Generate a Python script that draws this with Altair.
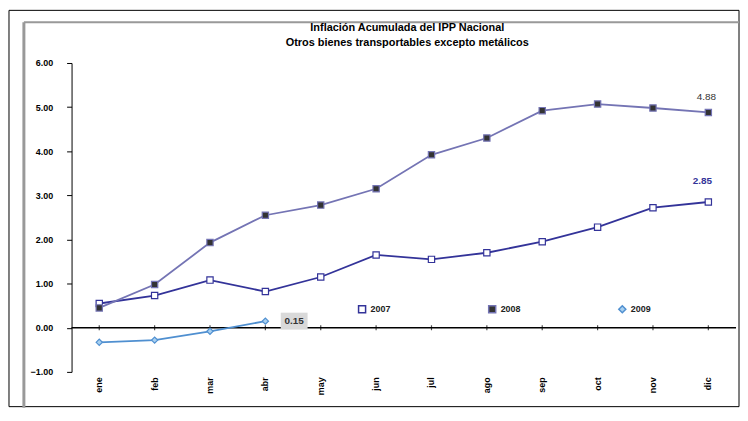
import altair as alt
import pandas as pd

months = ["ene", "feb", "mar", "abr", "may", "jun", "jul", "ago", "sep", "oct", "nov", "dic"]
series = ["2007", "2008", "2009"]
s2007 = [0.55, 0.73, 1.08, 0.82, 1.15, 1.65, 1.55, 1.70, 1.95, 2.28, 2.72, 2.85]
s2008 = [0.45, 0.98, 1.93, 2.55, 2.78, 3.15, 3.92, 4.30, 4.92, 5.07, 4.98, 4.88]
s2009 = [-0.33, -0.28, -0.08, 0.15]
y_ticks = [-1, 0, 1, 2, 3, 4, 5, 6]
title_lines = ["Inflación Acumulada del IPP Nacional", "Otros bienes transportables excepto metálicos"]
line_colors = ["#333399", "#7474B4", "#4F8FD0"]
fill_colors = ["#FFFFFF", "#333333", "#A8D0F0"]
shapes = ["square", "square", "diamond"]

rows = []
for name, vals in zip(series, [s2007, s2008, s2009]):
    for m, v in zip(months, vals):
        rows.append({"mes": m, "serie": name, "valor": v})
df = pd.DataFrame(rows)

FONT = "Liberation Sans"

x_enc = alt.X("mes:N", sort=months, scale=alt.Scale(domain=months, paddingInner=0, paddingOuter=0),
              axis=alt.Axis(title=None, domain=False, ticks=False, labelAngle=270,
                            labelFontWeight="bold", labelFontSize=9, labelPadding=5,
                            labelColor="black", labelFont=FONT, grid=False))
y_enc = alt.Y("valor:Q", scale=alt.Scale(domain=[-1, 6], nice=False, zero=False),
              axis=alt.Axis(title=None, values=y_ticks, format=".2f", grid=False,
                            domain=True, domainColor="black", tickColor="black",
                            tickSize=5, labelFontWeight="bold", labelFontSize=9,
                            labelColor="black", labelFont=FONT, labelPadding=14))

stroke_scale = alt.Scale(domain=series, range=line_colors)
fill_scale = alt.Scale(domain=series, range=fill_colors)
shape_scale = alt.Scale(domain=series, range=shapes)

leg = alt.Legend(title=None, orient="none", legendX=288, legendY=243, direction="horizontal",
                 columnPadding=94, labelFontWeight="bold", labelFontSize=9, labelFont=FONT,
                 symbolSize=50, symbolStrokeWidth=1.5, labelColor="#222222")

base = alt.Chart(df)

lines = base.mark_line(strokeWidth=1.8).encode(
    x=x_enc, y=y_enc,
    stroke=alt.Stroke("serie:N", scale=stroke_scale, legend=leg),
    detail="serie:N",
)

points = base.mark_point(size=40, strokeWidth=1.2, opacity=1, filled=False).encode(
    x=x_enc, y=y_enc,
    stroke=alt.Stroke("serie:N", scale=stroke_scale, legend=leg),
    fill=alt.Fill("serie:N", scale=fill_scale, legend=leg),
    shape=alt.Shape("serie:N", scale=shape_scale, legend=leg),
)

zero_df = pd.DataFrame({"valor": [0]})
zero_rule = alt.Chart(zero_df).mark_rule(color="black", strokeWidth=1.5).encode(y=y_enc)

tick_df = pd.DataFrame({"mes": months, "valor": [0] * len(months)})
ticks = alt.Chart(tick_df).mark_tick(color="black", size=5, thickness=1.2, orient="vertical").encode(
    x=x_enc, y=y_enc)

lab08 = base.transform_filter("datum.serie == '2008' && datum.mes == 'dic'").mark_text(
    fontSize=10, font=FONT, color="#333333", dy=-16, dx=-2).encode(
    x=x_enc, y=y_enc, text=alt.Text("valor:Q", format=".2f"))

lab07 = base.transform_filter("datum.serie == '2007' && datum.mes == 'dic'").mark_text(
    fontSize=10, font=FONT, fontWeight="bold", color="#333399", dy=-21, dx=-6).encode(
    x=x_enc, y=y_enc, text=alt.Text("valor:Q", format=".2f"))

lab09_bg = base.transform_filter("datum.serie == '2009' && datum.mes == 'abr'").mark_point(
    shape="M-1,-0.63L1,-0.63L1,0.63L-1,0.63Z", size=729, filled=True, color="#D9D9D9",
    opacity=1, strokeWidth=0, xOffset=29).encode(x=x_enc, y=y_enc)

lab09 = base.transform_filter("datum.serie == '2009' && datum.mes == 'abr'").mark_text(
    fontSize=10, font=FONT, fontWeight="bold", color="#333333", dx=29).encode(
    x=x_enc, y=y_enc, text=alt.Text("valor:Q", format=".2f"))

title_df = pd.DataFrame({"t": title_lines, "i": [0, 1]})
title1 = alt.Chart(title_df).transform_filter("datum.i == 0").mark_text(
    fontSize=11, font=FONT, fontWeight="bold", color="black").encode(
    text="t:N", x=alt.value(338), y=alt.value(-35))
title2 = alt.Chart(title_df).transform_filter("datum.i == 1").mark_text(
    fontSize=11, font=FONT, fontWeight="bold", color="black").encode(
    text="t:N", x=alt.value(338), y=alt.value(-20))

frame = alt.Chart(zero_df).mark_rect(fill=None, stroke="black", strokeWidth=1).encode(
    x=alt.value(-63), x2=alt.value(672), y=alt.value(-53), y2=alt.value(346))
gray_v = alt.Chart(zero_df).mark_rule(color="#999999", strokeWidth=3).encode(
    x=alt.value(-48), y=alt.value(-41), y2=alt.value(347))
gray_h = alt.Chart(zero_df).mark_rule(color="#999999", strokeWidth=2).encode(
    x=alt.value(-48), x2=alt.value(672), y=alt.value(-41))

chart = alt.layer(
    frame, gray_v, gray_h, title1, title2, zero_rule, ticks, lines, points,
    lab09_bg, lab09, lab08, lab07
).properties(
    width=669, height=311,
    autosize=alt.AutoSizeParams(type="none"),
    padding={"left": 64, "top": 54, "right": 4, "bottom": 37},
).configure_view(stroke=None)

chart.save("out.html", embed_options={"renderer": "svg", "actions": False})
